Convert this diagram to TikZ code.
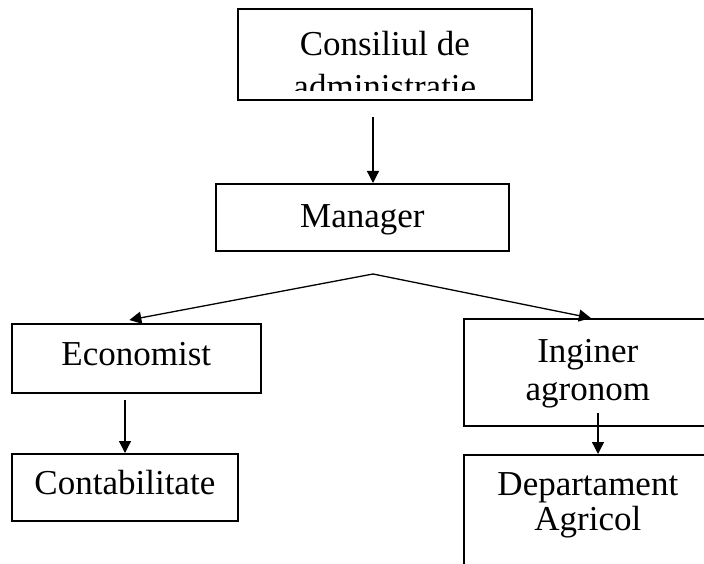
\documentclass[tikz,border=0pt]{standalone}
\usepackage{fontspec}
\setmainfont{Liberation Serif}
\usepackage{tikz}
\usetikzlibrary{calc,arrows.meta}
\tikzset{
	orgbox/.style={draw, line width=1.7pt, rectangle, anchor=north west, inner xsep=0pt, inner ysep=0pt,
		align=center, font=\fontsize{35}{40}\selectfont},
	link/.style={line width=1.3pt, ->},
}

\begin{document}
\begin{tikzpicture}[x=1pt, y=-1pt, >={Triangle[length=12pt,width=12pt]}]
\clip (0,0) rectangle (704,564);
\node[orgbox, minimum width=294pt, text height=90pt, text depth=1pt] (cons) at (237,8) {Consiliul de\\[3pt]administratie};
\fill[white] ([shift={(2pt,2pt)}]cons.south west) rectangle ([shift={(-2pt,10pt)}]cons.south east);
\node[orgbox, minimum width=293pt, text height=44pt, text depth=23pt] (man) at (215,183) {Manager};
\node[orgbox, minimum width=249pt, text height=42pt, text depth=27pt] (eco) at (11,323) {Economist};
\node[orgbox, minimum width=226pt, text height=41pt, text depth=26pt] (cont) at (11,453) {Contabilitate};
\node[orgbox, minimum width=248pt, text height=82pt, text depth=25pt] (ing) at (463,318) {Inginer\\[-2pt]agronom};
\node[orgbox, minimum width=248pt, text height=76pt, text depth=54pt] (dep) at (463,454) {Departament\\[-5pt]Agricol};
\coordinate (c1) at (373,117);
\coordinate (split) at (373,274);
\coordinate (e1) at (125,400);
\coordinate (i1) at (598,413);
\draw[link] (c1) -- (c1 |- man.north);
\draw[link] (split) -- ([shift={(-7pt,3pt)}]eco.north);
\draw[link] (split) -- ([shift={(3pt,0pt)}]ing.north);
\draw[link] (e1) -- (e1 |- cont.north);
\draw[link] (i1) -- (i1 |- dep.north);
\end{tikzpicture}
\end{document}
